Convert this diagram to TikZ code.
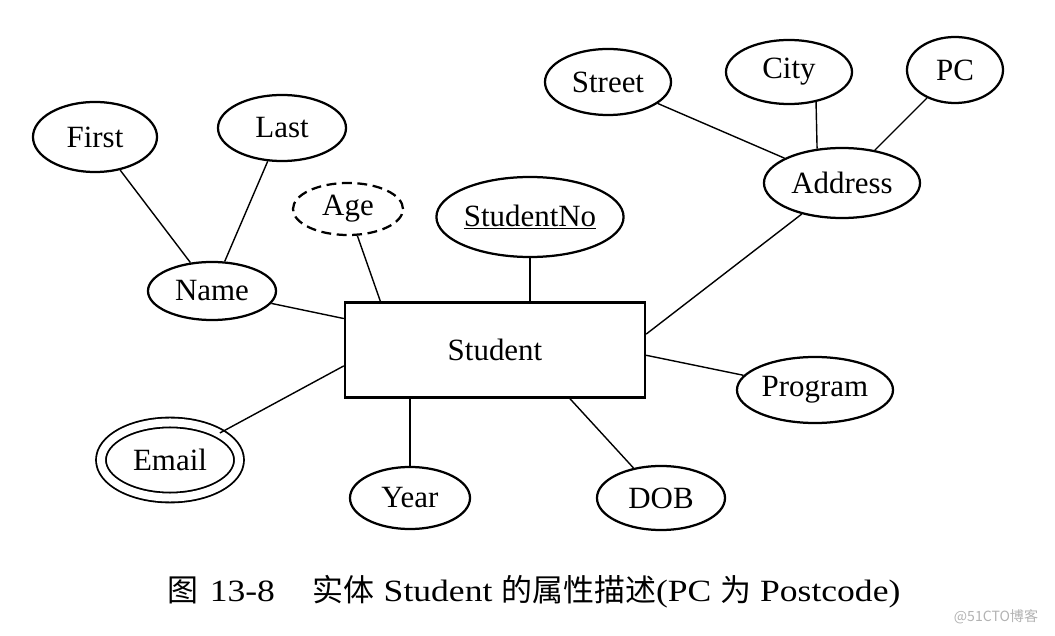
\documentclass[tikz,border=0pt]{standalone}
\usepackage{fontspec}
\setmainfont{Liberation Serif}
\newfontfamily\cjk{Noto Sans CJK SC}
\newfontfamily\capfont[FakeStretch=1.15]{Liberation Serif}
\usetikzlibrary{positioning}
\usetikzlibrary{calc}
\usetikzlibrary{shapes.geometric}

\tikzset{
    attr/.style={ellipse, draw, line width=1.6pt, inner sep=0pt,
        font=\fontsize{22}{26}\selectfont},
    entity/.style={rectangle, draw, line width=1.6pt, inner sep=0pt,
        minimum width=7.5cm, minimum height=2.375cm,
        font=\fontsize{22}{26}\selectfont},
}

\begin{document}
\begin{tikzpicture}[x=0.025cm, y=-0.025cm, line width=1pt]
        \useasboundingbox (0,0) rectangle (1055,636);

        \node [entity] (student) at (495,350) {Student};

        \node [attr, minimum width=3.1cm, minimum height=1.75cm] (first) at (95,137) {First};
        \node [attr, minimum width=3.2cm, minimum height=1.65cm] (last) at (282,128) {Last};
        \node [attr, minimum width=3.2cm, minimum height=1.45cm] (name) at (212,291) {Name};
        \node [attr, dash pattern=on 7pt off 4pt, minimum width=2.75cm, minimum height=1.3cm] (age) at (348,209) {Age};
        \node [attr, minimum width=4.4cm, minimum height=2cm] (stno) at (530,217) {\underline{StudentNo}};

        \node [attr, minimum width=3.15cm, minimum height=1.65cm] (street) at (608,82) {Street};
        \node [attr, minimum width=3.15cm, minimum height=1.6cm] (city) at (789,72) {City};
        \node [attr, minimum width=2.4cm, minimum height=1.65cm] (pc) at (955,70) {PC};
        \node [attr, minimum width=3.9cm, minimum height=1.75cm] (address) at (842,183) {Address};

        \node [attr, minimum width=3.9cm, minimum height=1.65cm] (program) at (815,390) {Program};
        \node [attr, minimum width=3.2cm, minimum height=1.6cm] (dob) at (661,498) {DOB};
        \node [attr, minimum width=3cm, minimum height=1.55cm] (year) at (410,498) {Year};
        \node [attr, double, double distance=0.2cm, line width=1.3pt,
            minimum width=3.45cm, minimum height=1.875cm] (email) at (170,460) {Email};

        % composite attributes
        \path (first) edge (name);
        \path (last) edge (name);
        \path (street) edge (address);
        \path (city.-48) edge (address.126);
        \path (pc) edge (address);

        % attributes of Student
        \path (name) edge (student);
        \path (age) edge (student.157);
        \path (stno.south) edge (stno.south |- student.north);
        \path (address) edge (student.6);
        \path (program) edge (student.-2);
        \path (dob) edge (student.-33);
        \path (year.north) edge (year.north |- student.south);
        \path (email) edge (student.186);

        \node [font=\capfont\fontsize{22}{26}\selectfont] (caption) at (534,592)
            {{\cjk 图}\hspace{8pt}13-8\hspace{27pt}{\cjk 实体} Student {\cjk 的属性描述}(PC {\cjk 为} Postcode)};
        \node [gray!60, font=\cjk\fontsize{10}{12}\selectfont] (mark) at (996,617) {@51CTO博客};
\end{tikzpicture}
\end{document}
